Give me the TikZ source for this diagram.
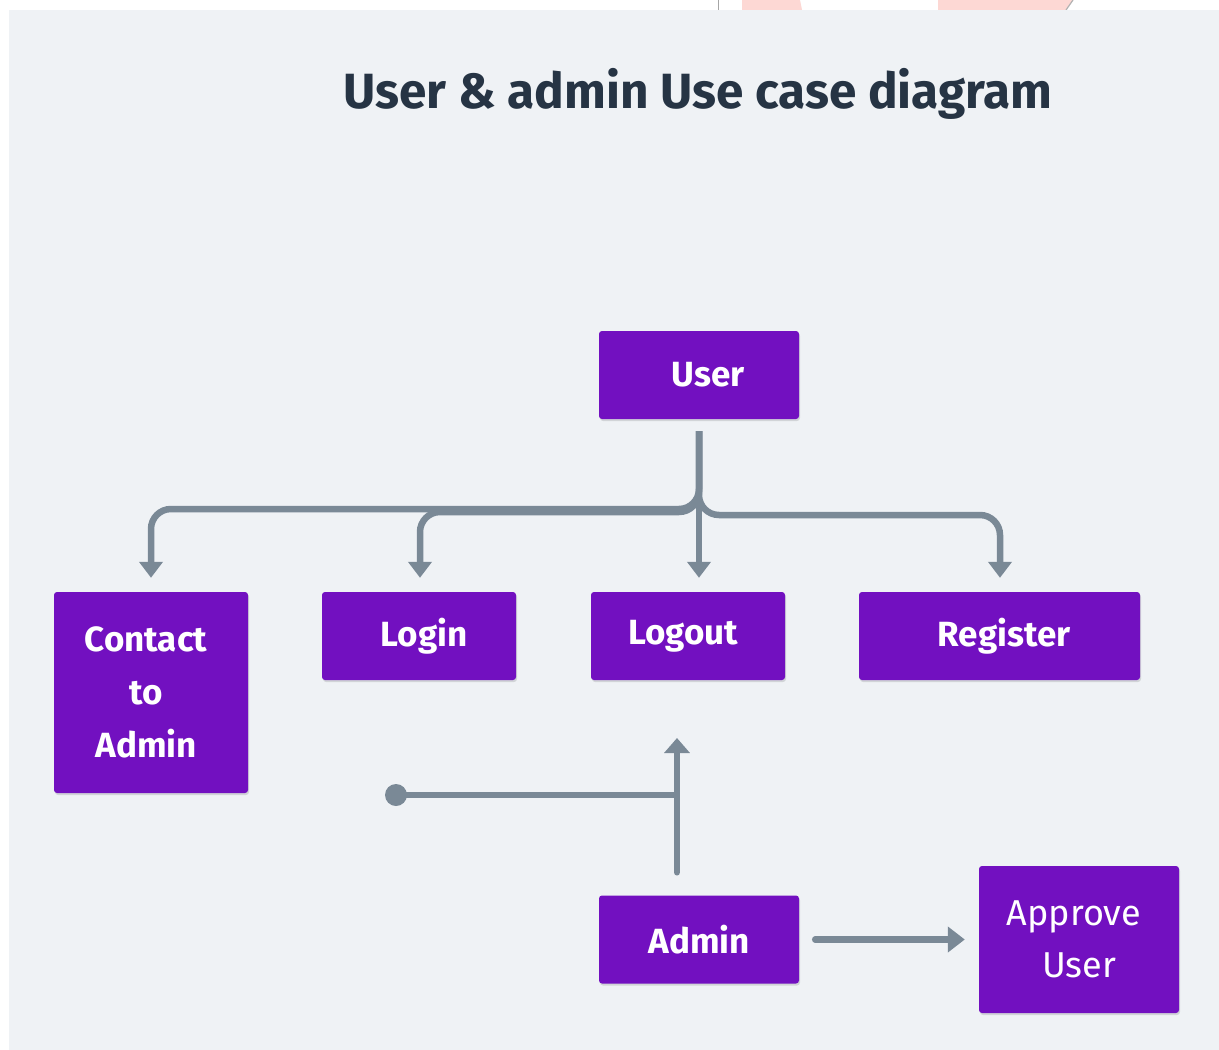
\documentclass[tikz,border=0pt]{standalone}
\usepackage{fontspec}
\setmainfont{Fira Sans}
\usetikzlibrary{arrows.meta,calc,shadows}
\definecolor{panel}{RGB}{239,242,245}
\definecolor{boxpurple}{RGB}{114,16,192}
\definecolor{conn}{RGB}{122,137,150}
\definecolor{titlecol}{RGB}{38,52,68}
\definecolor{pinkish}{RGB}{253,216,212}
\tikzset{
  ucbox/.style={draw=none, fill=boxpurple, rounded corners=3pt, text=white,
    font=\fontsize{35}{53}\selectfont\bfseries, align=center, inner sep=0pt,
    drop shadow={shadow xshift=1pt, shadow yshift=-2pt, opacity=0.12, fill=black}},
  conline/.style={draw=conn, line width=6.5pt},
  tipdown/.style={-{Triangle[width=23pt,length=16pt]}},
}
\begin{document}
\begin{tikzpicture}[x=1pt,y=-1pt]
\useasboundingbox (0,0) rectangle (1219,1050);
\fill[white] (0,0) rectangle (1219,1050);
% screenshot artifacts at top
\fill[pinkish] (742,0) -- (800,0) -- (802,10) -- (742,10) -- cycle;
\fill[pinkish] (938,0) -- (1073,0) -- (1066,10) -- (938,10) -- cycle;
\draw[gray!60, line width=1.2pt] (1073,0) -- (1066,10);
\draw[gray!70, line width=1pt] (718.5,0) -- (718.5,10);
\fill[panel] (9,10) rectangle (1219,1050);

\node[text=titlecol, font=\fontsize{49.5}{58}\selectfont\bfseries, anchor=center] (title) at (698,94) {User \& admin Use case diagram};

\node[ucbox, minimum width=200pt, minimum height=88pt] (user) at (699,375) {\hspace*{18pt}User};
\node[ucbox, minimum width=194pt, minimum height=201pt] (contact) at (151,692.5) {\hspace*{-10pt}Contact\\\hspace*{-10pt}to\\\hspace*{-10pt}Admin};
\node[ucbox, minimum width=194pt, minimum height=88pt] (login) at (419,636) {\hspace*{10pt}Login};
\node[ucbox, minimum width=194pt, minimum height=88pt] (logout) at (688,636) {\hspace*{-10pt}Logout};
\node[ucbox, minimum width=281pt, minimum height=88pt] (register) at (999.5,636) {\hspace*{9pt}Register};
\node[ucbox, minimum width=200pt, minimum height=88pt] (admin) at (699,939.5) {Admin};
\node[ucbox, font=\fontsize{36}{52}\selectfont, minimum width=200pt, minimum height=147pt] (approve) at (1079,939.5) {\hspace*{-10pt}Approve\\User};

% User connectors
\coordinate (ustart) at ($(user.south)+(0,12)$);
\draw[conline, tipdown, rounded corners=20pt] (ustart) -- (699,509) -- (151,509) -- ($(contact.north)+(0,-14)$);
\draw[conline, tipdown, rounded corners=20pt] (ustart) -- (699,512) -- (420,512) -- ($(login.north)+(1,-14)$);
\draw[conline, tipdown, rounded corners=20pt] (ustart) -- (699,515) -- (1000,515) -- ($(register.north)+(0.5,-14)$);
\draw[conline, tipdown] (ustart) -- ($(logout.north)+(11,-14)$);

% Admin connectors
\coordinate (astart) at ($(admin.north)+(-22,-23)$);
\coordinate (ajunc) at (677,795);
\coordinate (adot) at (396,795);
\draw[conline, line cap=round, -{Triangle[width=25pt,length=15pt]}] (astart) -- (677,738);
\draw[conline] (adot) -- ($(ajunc)+(3,0)$);
\fill[conn] (adot) circle (11pt);
\draw[conline, line cap=round, -{Triangle[width=25pt,length=17pt]}] ($(admin.east)+(16,0)$) -- ($(approve.west)+(-14,0)$);
\end{tikzpicture}
\end{document}
